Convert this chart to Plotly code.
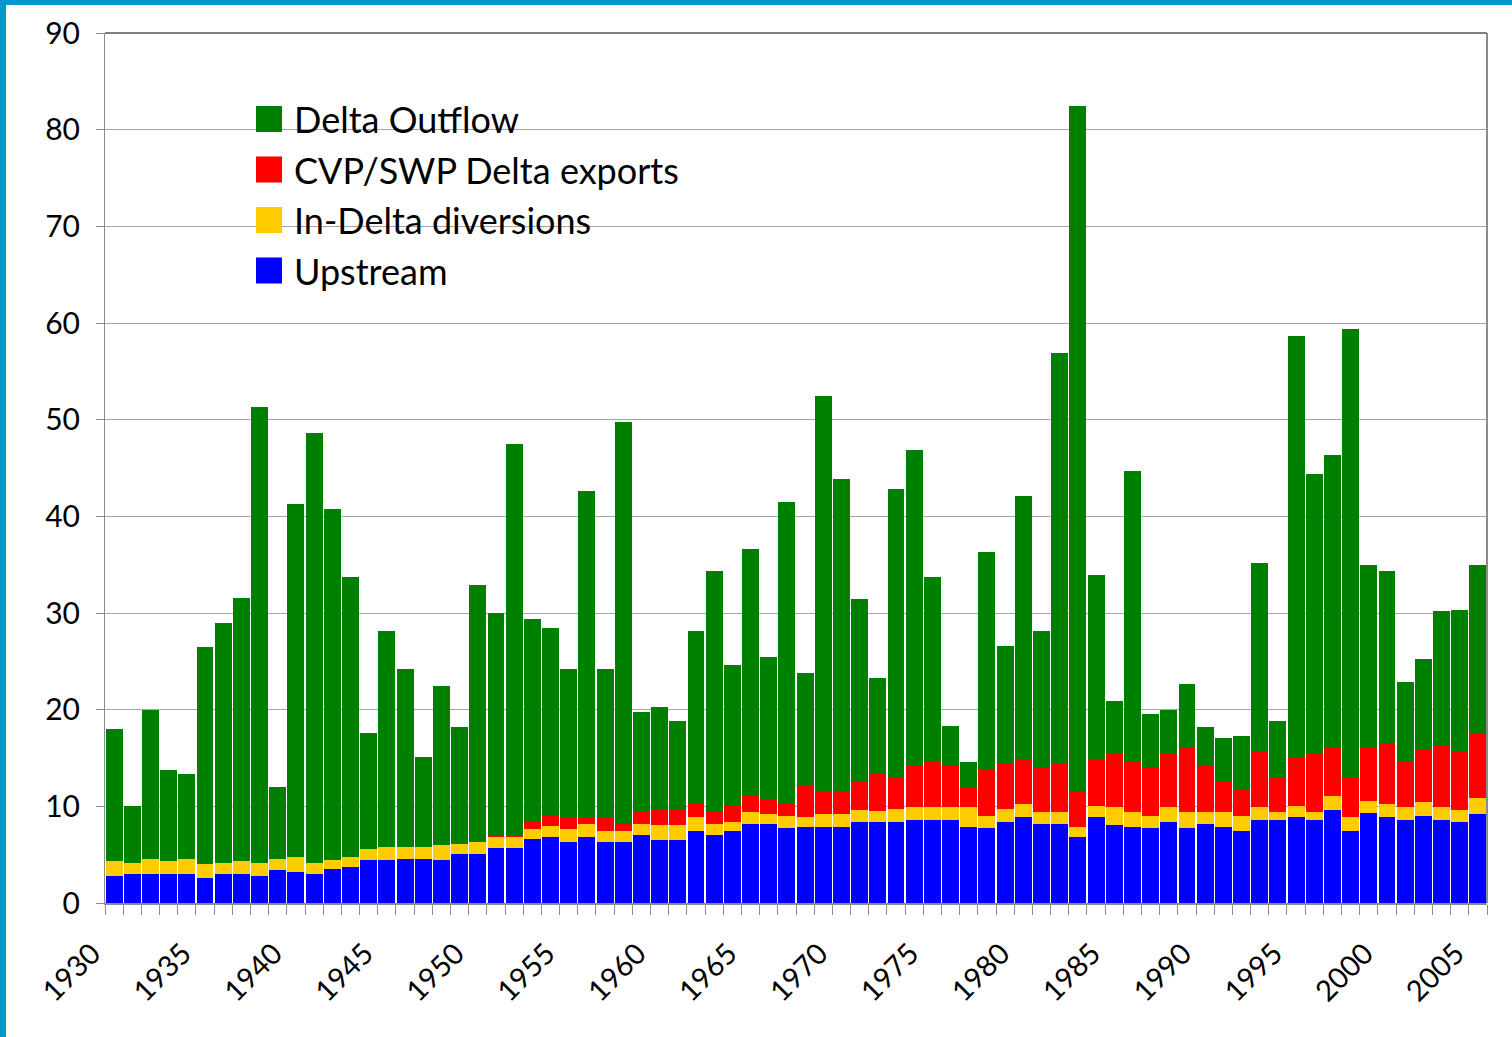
import plotly.graph_objects as go

years = list(range(1930, 2006))

upstream = [2.8, 3.0, 3.0, 3.0, 3.0, 2.6, 3.0, 3.0, 2.8, 3.45,
            3.25, 3.0, 3.55, 3.75, 4.4, 4.4, 4.6, 4.6, 4.4, 5.1,
            5.1, 5.7, 5.7, 6.65, 6.85, 6.35, 6.85, 6.35, 6.35, 7.05,
            6.55, 6.55, 7.5, 7.05, 7.5, 8.2, 8.2, 7.8, 7.9, 7.9,
            7.9, 8.4, 8.4, 8.4, 8.6, 8.6, 8.6, 7.9, 7.8, 8.4,
            8.85, 8.2, 8.2, 6.85, 8.85, 8.1, 7.9, 7.8, 8.4, 7.8,
            8.2, 7.9, 7.5, 8.6, 8.6, 8.85, 8.6, 9.65, 7.5, 9.35,
            8.85, 8.6, 9.05, 8.6, 8.4, 9.25]

in_delta = [1.55, 1.15, 1.55, 1.35, 1.55, 1.4, 1.15, 1.35, 1.35, 1.15,
            1.55, 1.15, 0.85, 1.05, 1.15, 1.35, 1.15, 1.15, 1.55, 1.05,
            1.25, 1.15, 1.15, 1.05, 1.15, 1.35, 1.35, 1.15, 1.15, 1.15,
            1.55, 1.55, 1.35, 1.15, 0.9, 1.25, 1.05, 1.25, 0.95, 1.35,
            1.35, 1.25, 1.15, 1.35, 1.35, 1.35, 1.35, 2.05, 1.25, 1.35,
            1.35, 1.25, 1.25, 1.05, 1.15, 1.85, 1.55, 1.25, 1.55, 1.65,
            1.25, 1.55, 1.55, 1.35, 0.85, 1.15, 0.85, 1.45, 1.35, 1.25,
            1.35, 1.35, 1.35, 1.35, 1.25, 1.65]

exports = [0, 0, 0, 0, 0, 0, 0, 0, 0, 0,
           0, 0, 0, 0, 0, 0, 0, 0, 0, 0,
           0, 0.1, 0.1, 0.7, 1.05, 1.15, 0.6, 1.35, 0.7, 1.25,
           1.65, 1.65, 1.35, 1.25, 1.75, 1.65, 1.55, 1.15, 3.4, 2.3,
           2.3, 3.0, 3.75, 3.3, 4.25, 4.65, 4.25, 1.95, 4.85, 4.65,
           4.65, 4.55, 4.95, 3.6, 4.85, 5.6, 5.15, 4.95, 5.5, 6.7,
           4.75, 3.2, 2.7, 5.8, 3.6, 5.05, 6.0, 5.05, 4.05, 5.4,
           6.2, 4.65, 5.4, 6.4, 6.1, 6.6]

outflow = [13.6, 5.85, 15.4, 9.45, 8.8, 22.5, 24.85, 27.2, 47.15, 7.45,
           36.45, 44.45, 36.4, 28.9, 12.05, 22.4, 18.5, 9.4, 16.55, 12.05,
           26.55, 23.05, 40.55, 21.0, 19.45, 15.35, 33.8, 15.35, 41.6, 10.35,
           10.55, 9.05, 17.9, 24.85, 14.45, 25.5, 14.6, 31.3, 11.55, 40.95,
           32.35, 18.75, 10.0, 29.75, 32.7, 19.1, 4.1, 2.7, 22.4, 12.15,
           27.25, 14.1, 42.5, 71.0, 19.05, 5.35, 30.1, 5.6, 4.55, 6.55,
           4.0, 4.45, 5.55, 19.45, 5.75, 43.65, 28.95, 30.15, 46.5, 19.0,
           17.9, 8.3, 9.4, 13.85, 14.55, 17.5]

tick_years = [1930, 1935, 1940, 1945, 1950, 1955, 1960, 1965, 1970,
              1975, 1980, 1985, 1990, 1995, 2000, 2005]
y_ticks = [0, 10, 20, 30, 40, 50, 60, 70, 80, 90]

series = [
    ("Upstream", upstream, "#0000FF"),
    ("In-Delta diversions", in_delta, "#FFCC00"),
    ("CVP/SWP Delta exports", exports, "#FF0000"),
    ("Delta Outflow", outflow, "#008000"),
]
legend_order = ["Delta Outflow", "CVP/SWP Delta exports", "In-Delta diversions", "Upstream"]

FONT = "Lato, 'Noto Sans', sans-serif"
W, H = 1512, 1037
L, R, T, B = 105, 1487, 33, 903
PW, PH = R - L, B - T


def px(x):
    return (x - L) / PW


def py(y):
    return (B - y) / PH


fig = go.Figure()
for name, vals, col in series:
    fig.add_trace(go.Bar(x=years, y=vals, name=name, marker=dict(color=col, line=dict(width=0)),
                         showlegend=False))

shapes = []
# blue frame strips
shapes.append(dict(type="rect", xref="paper", yref="paper", x0=px(0), x1=px(6), y0=py(H), y1=py(0),
                   fillcolor="#0099CC", line=dict(width=0), layer="above"))
shapes.append(dict(type="rect", xref="paper", yref="paper", x0=px(0), x1=px(W), y0=py(5), y1=py(0),
                   fillcolor="#0099CC", line=dict(width=0), layer="above"))
# legend background
shapes.append(dict(type="rect", xref="paper", yref="paper", x0=px(232), x1=px(700), y0=py(300), y1=py(85),
                   fillcolor="white", line=dict(width=0), layer="between"))
# top border and right border
shapes.append(dict(type="line", xref="paper", yref="paper", x0=0, x1=1, y0=1, y1=1,
                   line=dict(color="black", width=1), layer="above"))
shapes.append(dict(type="line", xref="paper", yref="paper", x0=1, x1=1, y0=0, y1=1,
                   line=dict(color="#8C8C8C", width=2), layer="above"))

annotations = []
colors = {n: c for n, _, c in series}
for i, name in enumerate(legend_order):
    cy = 119 + i * 50.5
    shapes.append(dict(type="rect", xref="paper", yref="paper", x0=px(256), x1=px(282),
                       y0=py(cy + 13), y1=py(cy - 13), fillcolor=colors[name], line=dict(width=0),
                       layer="above"))
    annotations.append(dict(x=px(292), y=py(cy), xref="paper", yref="paper", text=name,
                            showarrow=False, xanchor="left", yanchor="middle",
                            font=dict(family=FONT, size=36, color="black")))

fig.update_layout(
    width=W, height=H,
    margin=dict(l=L, r=W - R, t=T, b=H - B, pad=0),
    paper_bgcolor="white", plot_bgcolor="white",
    barmode="stack", bargap=0.07,
    shapes=shapes, annotations=annotations,
    font=dict(family=FONT, color="black"),
    xaxis=dict(
        range=[1929.5, 2005.5], tickmode="array", tickvals=tick_years,
        ticktext=[str(y) for y in tick_years], tickangle=-45,
        tickfont=dict(family=FONT, size=29, color="black"),
        ticks="", showline=True, linecolor="#8C8C8C", linewidth=2, showgrid=False,
        zeroline=False, ticklabelstandoff=20, ticklabelshift=-22,
        minor=dict(tickmode="linear", tick0=1929.5, dtick=1, ticks="outside", ticklen=10,
                   tickcolor="#8C8C8C", tickwidth=1, showgrid=False),
    ),
    yaxis=dict(
        range=[0, 90], tickmode="array", tickvals=y_ticks,
        tickfont=dict(family=FONT, size=30, color="black"),
        ticks="outside", ticklen=8, tickcolor="#8C8C8C", tickwidth=1,
        showline=True, linecolor="#8C8C8C", linewidth=1,
        showgrid=True, gridcolor="#A6A6A6", gridwidth=1, zeroline=False,
        ticklabelstandoff=10,
    ),
)

fig.write_html("out.html", config={"displayModeBar": False},
               post_script="document.body.style.margin='0px';")
